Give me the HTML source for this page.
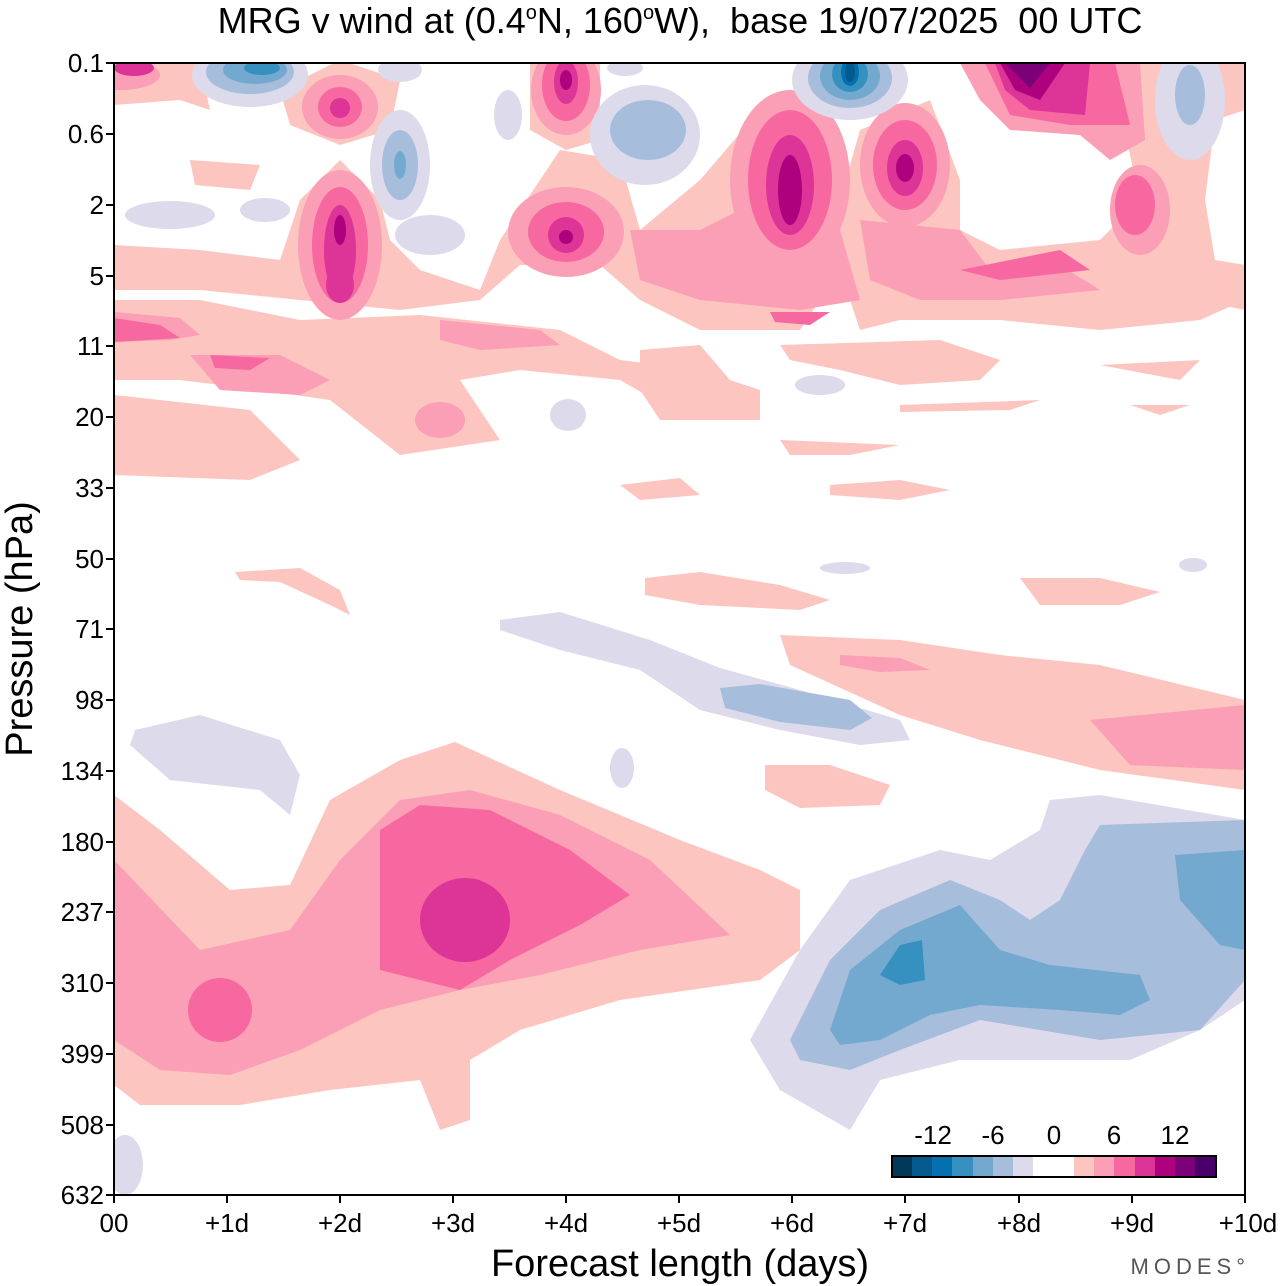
<!DOCTYPE html>
<html><head><style>body{margin:0;background:#fff}svg{display:block;font-family:"Liberation Sans",sans-serif}</style></head><body>
<svg width="1280" height="1286" viewBox="0 0 1280 1286">
<defs><clipPath id="c"><rect x="114" y="63" width="1131" height="1132"/></clipPath></defs>
<g clip-path="url(#c)" stroke-linejoin="round">
<path fill="#fcc5c0" d="M114,795 L160,830 L230,890 L290,885 L330,800 L400,760 L455,742 L560,790 L680,840 L760,870 L800,890 L800,950 L760,980 L620,1000 L520,1030 L470,1060 L470,1120 L440,1130 L420,1080 L330,1090 L240,1105 L140,1105 L114,1085 Z"/>
<path fill="#fa9fb5" d="M114,860 L200,950 L290,930 L340,860 L400,800 L470,790 L560,815 L650,860 L730,935 L640,950 L540,975 L460,990 L380,1010 L300,1050 L230,1075 L160,1070 L114,1040 Z"/>
<path fill="#f768a1" d="M380,830 L420,805 L490,810 L570,850 L630,895 L580,925 L510,960 L460,990 L380,970 Z"/>
<ellipse fill="#f768a1" cx="220" cy="1010" rx="32" ry="32"/>
<ellipse fill="#dd3497" cx="465" cy="920" rx="45" ry="42"/>
<path fill="#dcdaeb" d="M750,1040 L800,950 L850,880 L940,850 L990,860 L1040,830 L1050,800 L1100,795 L1245,820 L1245,1000 L1200,1030 L1130,1060 L1000,1060 L960,1060 L880,1080 L850,1130 L780,1090 Z"/>
<path fill="#a6bddb" d="M790,1040 L830,960 L880,910 L950,880 L1000,900 L1030,920 L1060,900 L1085,850 L1100,825 L1245,820 L1245,980 L1200,1030 L1100,1040 L980,1020 L900,1050 L850,1070 L800,1060 Z"/>
<path fill="#74a9cf" d="M830,1030 L850,970 L900,930 L960,905 L1000,950 L1050,965 L1140,975 L1150,1000 L1120,1015 L1060,1010 L980,1005 L930,1015 L880,1040 L840,1045 Z"/>
<path fill="#74a9cf" d="M1175,855 L1245,850 L1245,950 L1220,945 L1180,900 Z"/>
<path fill="#3690c0" d="M880,975 L900,945 L922,940 L925,980 L900,985 Z"/>
<ellipse fill="#dcdaeb" cx="125" cy="1165" rx="18" ry="30"/>
<path fill="#dcdaeb" d="M500,620 L560,612 L650,640 L720,668 L800,690 L900,720 L910,740 L860,745 L780,730 L700,710 L640,670 L560,650 L500,630 Z"/>
<path fill="#a6bddb" d="M720,688 L760,684 L850,700 L872,718 L850,730 L780,722 L725,708 Z"/>
<path fill="#dcdaeb" d="M135,730 L200,715 L280,740 L300,775 L290,815 L260,790 L170,780 L130,745 Z"/>
<path fill="#fcc5c0" d="M780,635 L900,640 L1000,655 L1100,665 L1245,700 L1245,790 L1100,770 L980,740 L900,715 L790,665 Z"/>
<path fill="#fa9fb5" d="M1090,720 L1245,705 L1245,770 L1130,765 Z"/>
<path fill="#fa9fb5" d="M840,655 L900,658 L930,670 L880,672 L840,665 Z"/>
<path fill="#fcc5c0" d="M765,765 L830,765 L890,785 L880,805 L800,808 L765,790 Z"/>
<path fill="#fcc5c0" d="M645,578 L700,572 L780,585 L830,600 L800,610 L700,605 L645,595 Z"/>
<path fill="#fcc5c0" d="M1020,578 L1100,578 L1160,592 L1120,605 L1040,605 Z"/>
<path fill="#fcc5c0" d="M235,572 L300,568 L340,590 L350,615 L330,605 L280,582 L240,580 Z"/>
<path fill="#fcc5c0" d="M620,485 L680,478 L700,495 L640,500 Z"/>
<path fill="#fcc5c0" d="M830,485 L900,480 L950,490 L900,500 L830,495 Z"/>
<path fill="#fcc5c0" d="M780,440 L900,445 L850,455 L790,455 Z"/>
<path fill="#fcc5c0" d="M114,300 L200,300 L300,320 L420,315 L560,330 L620,360 L700,370 L760,390 L760,420 L690,420 L620,380 L520,370 L460,380 L500,440 L400,455 L330,400 L260,390 L180,380 L114,380 Z"/>
<path fill="#fcc5c0" d="M114,395 L250,410 L300,460 L250,480 L114,475 Z"/>
<path fill="#fcc5c0" d="M114,245 L200,250 L280,260 L300,200 L340,160 L380,200 L390,240 L420,270 L480,290 L500,240 L560,150 L620,160 L640,230 L700,180 L760,110 L820,110 L840,200 L860,130 L930,100 L960,180 L960,230 L1000,250 L1100,240 L1140,200 L1120,110 L1000,70 L990,63 L1245,63 L1245,300 L1200,320 L1100,330 L1000,320 L900,320 L860,330 L840,270 L800,330 L700,330 L640,300 L600,265 L520,265 L480,300 L400,310 L300,300 L200,290 L114,290 Z"/>
<ellipse fill="#fff" cx="1072" cy="185" rx="38" ry="55"/>
<path fill="#fff" d="M1215,120 L1245,110 L1245,265 L1215,260 L1205,200 Z"/>
<path fill="#fcc5c0" d="M114,63 L200,63 L210,110 L180,100 L114,105 Z"/>
<path fill="#fcc5c0" d="M280,90 L340,60 L400,80 L390,130 L340,145 L290,125 Z"/>
<path fill="#fcc5c0" d="M530,63 L600,63 L600,140 L566,150 L530,130 Z"/>
<path fill="#fcc5c0" d="M190,160 L260,165 L250,190 L195,185 Z"/>
<path fill="#fcc5c0" d="M640,350 L700,345 L730,380 L700,420 L660,420 L640,390 Z"/>
<path fill="#fcc5c0" d="M780,345 L940,340 L1000,360 L980,380 L900,385 L840,370 L790,360 Z"/>
<path fill="#fcc5c0" d="M900,405 L1040,400 L1010,410 L900,412 Z"/>
<path fill="#fcc5c0" d="M1130,405 L1190,405 L1160,415 Z"/>
<path fill="#fcc5c0" d="M1100,365 L1200,360 L1180,380 Z"/>
<path fill="#fcc5c0" d="M1215,285 L1245,270 L1245,310 L1220,305 Z"/>
<path fill="#fa9fb5" d="M114,312 L180,318 L200,335 L170,340 L114,342 Z"/>
<path fill="#fa9fb5" d="M190,355 L280,355 L330,380 L300,395 L220,390 Z"/>
<path fill="#fa9fb5" d="M440,320 L540,330 L560,345 L480,350 L440,340 Z"/>
<path fill="#fa9fb5" d="M630,230 L700,230 L760,200 L840,230 L860,300 L800,310 L700,300 L640,280 Z"/>
<path fill="#fa9fb5" d="M860,220 L960,230 L990,270 L1060,265 L1100,290 L1000,300 L920,300 L870,280 Z"/>
<path fill="#fa9fb5" d="M960,63 L1140,63 L1145,140 L1110,160 L1080,135 L1010,130 L980,100 Z"/>
<ellipse fill="#fa9fb5" cx="1140" cy="210" rx="30" ry="45"/>
<ellipse fill="#fa9fb5" cx="440" cy="420" rx="25" ry="18"/>
<ellipse fill="#fa9fb5" cx="120" cy="75" rx="40" ry="15"/>
<ellipse fill="#fa9fb5" cx="340" cy="245" rx="42" ry="75"/>
<ellipse fill="#fa9fb5" cx="566" cy="232" rx="58" ry="45"/>
<ellipse fill="#fa9fb5" cx="566" cy="90" rx="35" ry="45"/>
<ellipse fill="#fa9fb5" cx="340" cy="107" rx="38" ry="32"/>
<ellipse fill="#fa9fb5" cx="790" cy="180" rx="60" ry="90"/>
<ellipse fill="#fa9fb5" cx="905" cy="165" rx="45" ry="62"/>
<path fill="#f768a1" d="M114,318 L160,325 L180,338 L114,342 Z"/>
<path fill="#f768a1" d="M210,355 L270,358 L250,370 L215,368 Z"/>
<path fill="#f768a1" d="M960,270 L1060,250 L1090,270 L1000,280 Z"/>
<path fill="#f768a1" d="M770,312 L830,312 L810,325 L775,322 Z"/>
<ellipse fill="#f768a1" cx="340" cy="245" rx="28" ry="58"/>
<ellipse fill="#f768a1" cx="566" cy="232" rx="38" ry="30"/>
<ellipse fill="#f768a1" cx="566" cy="85" rx="24" ry="36"/>
<ellipse fill="#f768a1" cx="340" cy="107" rx="22" ry="20"/>
<ellipse fill="#f768a1" cx="790" cy="180" rx="42" ry="70"/>
<ellipse fill="#f768a1" cx="905" cy="165" rx="32" ry="45"/>
<ellipse fill="#f768a1" cx="1135" cy="205" rx="20" ry="30"/>
<path fill="#f768a1" d="M985,63 L1115,63 L1130,125 L1070,125 L1010,115 Z"/>
<path fill="#dd3497" d="M995,63 L1090,63 L1085,115 L1030,110 L1005,90 Z"/>
<path fill="#ae017e" d="M1000,63 L1065,63 L1040,100 L1015,90 Z"/>
<path fill="#7a0177" d="M1005,63 L1050,63 L1030,88 Z"/>
<ellipse fill="#dd3497" cx="340" cy="250" rx="16" ry="45"/>
<ellipse fill="#dd3497" cx="340" cy="285" rx="14" ry="18"/>
<ellipse fill="#dd3497" cx="566" cy="235" rx="18" ry="18"/>
<ellipse fill="#dd3497" cx="566" cy="82" rx="12" ry="22"/>
<ellipse fill="#dd3497" cx="340" cy="108" rx="10" ry="10"/>
<ellipse fill="#dd3497" cx="790" cy="185" rx="24" ry="50"/>
<ellipse fill="#dd3497" cx="905" cy="168" rx="18" ry="28"/>
<ellipse fill="#ae017e" cx="790" cy="190" rx="12" ry="35"/>
<ellipse fill="#ae017e" cx="905" cy="168" rx="9" ry="14"/>
<ellipse fill="#ae017e" cx="340" cy="230" rx="6" ry="15"/>
<ellipse fill="#ae017e" cx="566" cy="80" rx="6" ry="10"/>
<ellipse fill="#ae017e" cx="566" cy="237" rx="7" ry="7"/>
<ellipse fill="#dd3497" cx="134" cy="68" rx="20" ry="8"/>
<ellipse fill="#dcdaeb" cx="250" cy="75" rx="58" ry="32"/>
<ellipse fill="#a6bddb" cx="250" cy="72" rx="44" ry="22"/>
<ellipse fill="#74a9cf" cx="255" cy="70" rx="32" ry="14"/>
<ellipse fill="#3690c0" cx="262" cy="68" rx="18" ry="7"/>
<ellipse fill="#dcdaeb" cx="850" cy="80" rx="58" ry="40"/>
<ellipse fill="#a6bddb" cx="850" cy="78" rx="42" ry="30"/>
<ellipse fill="#74a9cf" cx="850" cy="76" rx="30" ry="24"/>
<ellipse fill="#3690c0" cx="850" cy="74" rx="18" ry="18"/>
<ellipse fill="#0570b0" cx="850" cy="72" rx="9" ry="14"/>
<ellipse fill="#045a8d" cx="850" cy="72" rx="5" ry="10"/>
<ellipse fill="#dcdaeb" cx="645" cy="135" rx="55" ry="50"/>
<ellipse fill="#a6bddb" cx="648" cy="130" rx="38" ry="30"/>
<ellipse fill="#dcdaeb" cx="400" cy="165" rx="30" ry="55"/>
<ellipse fill="#a6bddb" cx="400" cy="165" rx="18" ry="35"/>
<ellipse fill="#74a9cf" cx="400" cy="165" rx="6" ry="14"/>
<ellipse fill="#dcdaeb" cx="430" cy="235" rx="35" ry="20"/>
<ellipse fill="#dcdaeb" cx="1190" cy="100" rx="35" ry="60"/>
<ellipse fill="#a6bddb" cx="1190" cy="95" rx="15" ry="30"/>
<ellipse fill="#dcdaeb" cx="508" cy="115" rx="14" ry="25"/>
<ellipse fill="#dcdaeb" cx="400" cy="70" rx="22" ry="12"/>
<ellipse fill="#dcdaeb" cx="625" cy="68" rx="18" ry="8"/>
<ellipse fill="#dcdaeb" cx="170" cy="215" rx="45" ry="14"/>
<ellipse fill="#dcdaeb" cx="265" cy="210" rx="25" ry="12"/>
<ellipse fill="#dcdaeb" cx="568" cy="415" rx="18" ry="16"/>
<ellipse fill="#dcdaeb" cx="622" cy="768" rx="12" ry="20"/>
<ellipse fill="#dcdaeb" cx="820" cy="385" rx="25" ry="10"/>
<ellipse fill="#dcdaeb" cx="845" cy="568" rx="25" ry="6"/>
<ellipse fill="#dcdaeb" cx="1193" cy="565" rx="14" ry="7"/>
</g>
<rect x="114" y="63" width="1131" height="1132" fill="none" stroke="#000" stroke-width="2"/>
<g stroke="#000" stroke-width="2">
<path d="M106,63H114M106,134H114M106,205H114M106,276H114M106,346H114M106,417H114M106,488H114M106,559H114M106,629H114M106,700H114M106,771H114M106,842H114M106,912H114M106,983H114M106,1054H114M106,1125H114M106,1195H114"/>
<path d="M114,1195V1203M227,1195V1203M340,1195V1203M453,1195V1203M566,1195V1203M679,1195V1203M792,1195V1203M905,1195V1203M1019,1195V1203M1132,1195V1203M1245,1195V1203"/>
</g>
<g font-size="26" text-anchor="end">
<text x="104" y="72">0.1</text><text x="104" y="143">0.6</text><text x="104" y="214">2</text><text x="104" y="285">5</text><text x="104" y="355">11</text><text x="104" y="426">20</text><text x="104" y="497">33</text><text x="104" y="568">50</text><text x="104" y="638">71</text><text x="104" y="709">98</text><text x="104" y="780">134</text><text x="104" y="851">180</text><text x="104" y="921">237</text><text x="104" y="992">310</text><text x="104" y="1063">399</text><text x="104" y="1134">508</text><text x="104" y="1204">632</text>
</g>
<g font-size="26" text-anchor="middle">
<text x="114" y="1232">00</text><text x="227" y="1232">+1d</text><text x="340" y="1232">+2d</text><text x="453" y="1232">+3d</text><text x="566" y="1232">+4d</text><text x="679" y="1232">+5d</text><text x="792" y="1232">+6d</text><text x="905" y="1232">+7d</text><text x="1019" y="1232">+8d</text><text x="1132" y="1232">+9d</text><text x="1248" y="1232">+10d</text>
</g>
<text x="680" y="1276" font-size="38" text-anchor="middle">Forecast length (days)</text>
<text transform="translate(32,629) rotate(-90)" font-size="38" text-anchor="middle">Pressure (hPa)</text>
<text x="680" y="33" font-size="36" text-anchor="middle">MRG v wind at (0.4<tspan font-size="20" dy="-14">o</tspan><tspan dy="14">N, 160</tspan><tspan font-size="20" dy="-14">o</tspan><tspan dy="14">W),&#160; base 19/07/2025&#160; 00 UTC</tspan></text>
<text x="1250" y="1274" font-size="22" fill="#555" text-anchor="end" letter-spacing="5">MODES°</text>
<g font-size="26" text-anchor="middle"><text x="933" y="1144">-12</text><text x="993" y="1144">-6</text><text x="1054" y="1144">0</text><text x="1114" y="1144">6</text><text x="1175" y="1144">12</text></g>
<g>
<rect x="892" y="1156" width="21" height="21" fill="#023858"/><rect x="912" y="1156" width="21" height="21" fill="#045a8d"/><rect x="932" y="1156" width="21" height="21" fill="#0570b0"/><rect x="952" y="1156" width="21" height="21" fill="#3690c0"/><rect x="973" y="1156" width="21" height="21" fill="#74a9cf"/><rect x="993" y="1156" width="21" height="21" fill="#a6bddb"/><rect x="1013" y="1156" width="21" height="21" fill="#dcdaeb"/><rect x="1033" y="1156" width="41" height="21" fill="#fff"/><rect x="1074" y="1156" width="21" height="21" fill="#fcc5c0"/><rect x="1094" y="1156" width="21" height="21" fill="#fa9fb5"/><rect x="1114" y="1156" width="21" height="21" fill="#f768a1"/><rect x="1135" y="1156" width="21" height="21" fill="#dd3497"/><rect x="1155" y="1156" width="21" height="21" fill="#ae017e"/><rect x="1175" y="1156" width="21" height="21" fill="#7a0177"/><rect x="1195" y="1156" width="21" height="21" fill="#49006a"/>
<rect x="892" y="1156" width="324" height="21" fill="none" stroke="#000" stroke-width="2"/>
</g>
</svg>
</body></html>
